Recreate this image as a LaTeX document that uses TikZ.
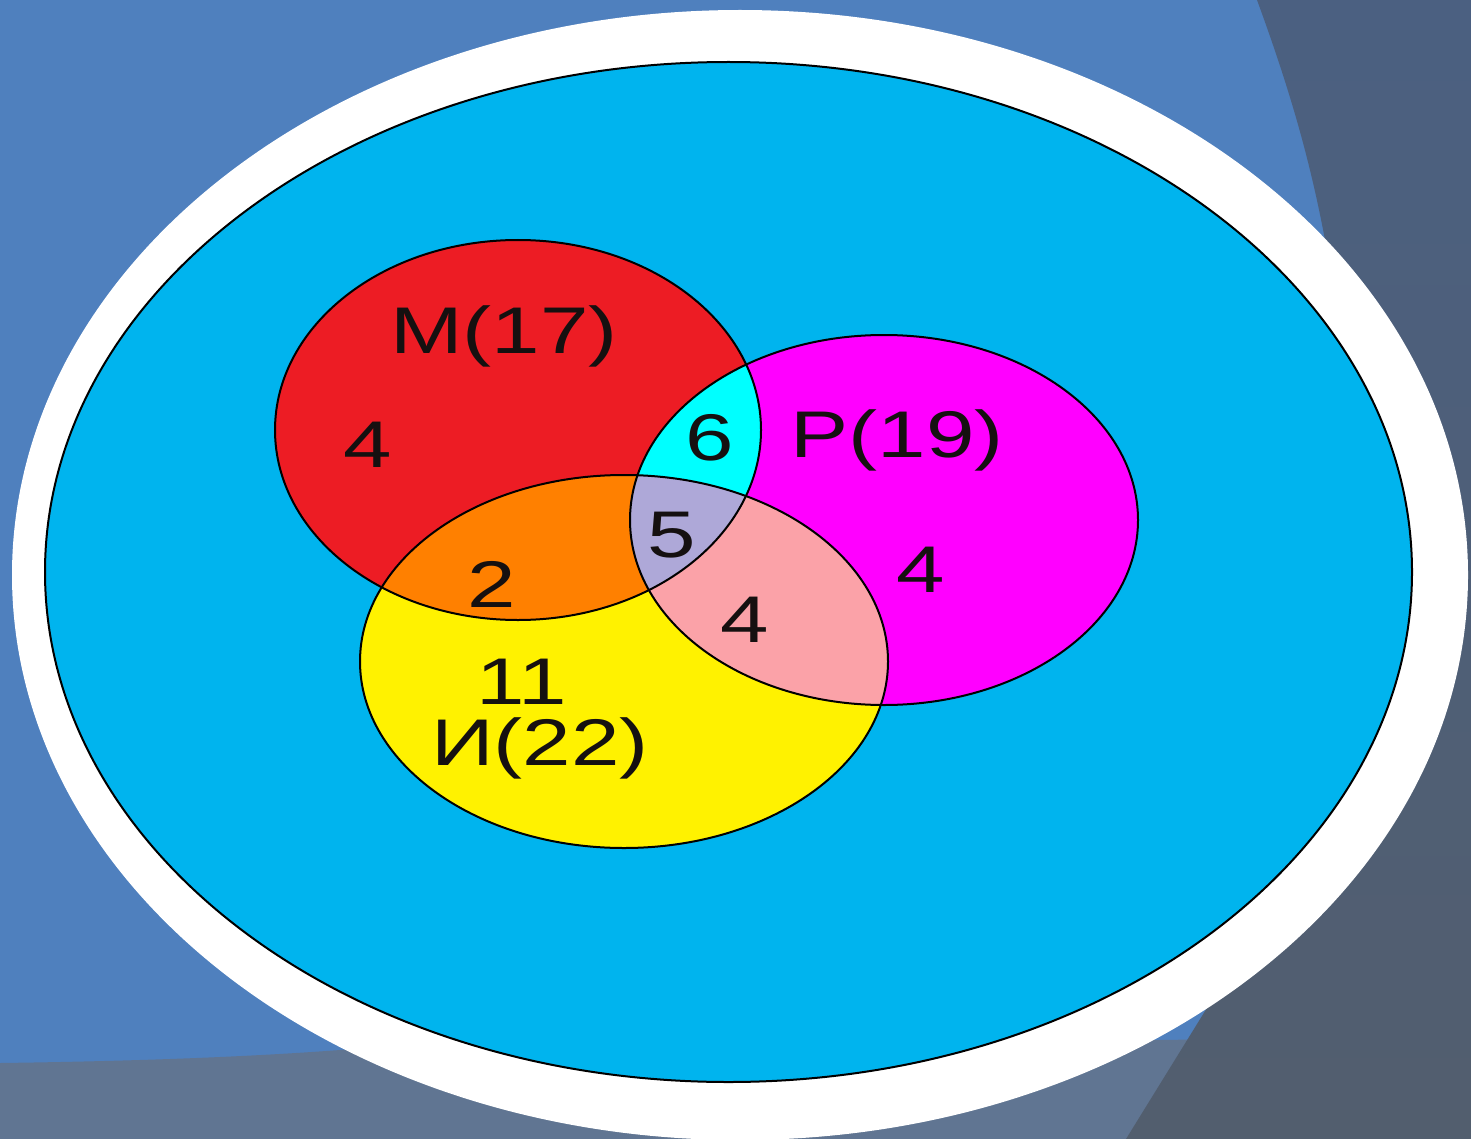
\documentclass[tikz,border=0pt]{standalone}
\usepackage{fontspec}
\setmainfont{Liberation Sans}
\definecolor{bgblue}{HTML}{4F80BE}
\definecolor{bandgray}{HTML}{607592}
\definecolor{slatetop}{HTML}{4B6081}
\definecolor{slatebot}{HTML}{525E6E}
\definecolor{universe}{HTML}{00B4EE}
\definecolor{setM}{HTML}{ED1C24}
\definecolor{setP}{HTML}{FF00FF}
\definecolor{setI}{HTML}{FFF200}
\definecolor{mp}{HTML}{00FFFF}
\definecolor{mi}{HTML}{FF8000}
\definecolor{pi}{HTML}{FBA2A8}
\definecolor{mpi}{HTML}{AEA8D8}
\definecolor{ink}{HTML}{151010}
\tikzset{
  lbl/.style={inner sep=0pt, anchor=base, text=ink,
    font=\fontsize{33}{36}\selectfont},
  outline/.style={draw=black, line width=1pt}
}
\newcommand{\wide}[1]{\scalebox{1.32}[1]{#1}}
\begin{document}
\begin{tikzpicture}[x=0.5pt,y=-0.5pt]
\useasboundingbox (0,0) rectangle (1471,1139);
% background
\fill[bgblue] (0,0) rectangle (1471,1139);
\fill[bandgray] (0,1063) .. controls (150,1061) and (260,1056) .. (340,1050) -- (1320,1038) -- (1320,1139) -- (0,1139) -- cycle;
\shade[top color=slatetop, bottom color=slatebot]
  (1257,0) .. controls (1290,90) and (1310,160) .. (1325,240) -- (1310,880) -- (1210,1003) -- (1126,1139) -- (1471,1139) -- (1471,0) -- cycle;
% white frame ellipse and universe
\fill[white] (740,575) ellipse [x radius=728, y radius=565];
\path[fill=universe, outline] (728.5,572) ellipse [x radius=683.5, y radius=510];
% sets
\fill[setM] (518,430) ellipse [x radius=243, y radius=190];
\fill[setP] (884,520) ellipse [x radius=254, y radius=185];
\fill[setI] (624,661.5) ellipse [x radius=264, y radius=186.5];
\begin{scope}
  \clip (884,520) ellipse [x radius=254, y radius=185];
  \fill[pi] (624,661.5) ellipse [x radius=264, y radius=186.5];
\end{scope}
\begin{scope}
  \clip (518,430) ellipse [x radius=243, y radius=190];
  \fill[mp] (884,520) ellipse [x radius=254, y radius=185];
  \fill[mi] (624,661.5) ellipse [x radius=264, y radius=186.5];
  \clip (884,520) ellipse [x radius=254, y radius=185];
  \fill[mpi] (624,661.5) ellipse [x radius=264, y radius=186.5];
\end{scope}
\draw[outline] (518,430) ellipse [x radius=243, y radius=190];
\draw[outline] (884,520) ellipse [x radius=254, y radius=185];
\draw[outline] (624,661.5) ellipse [x radius=264, y radius=186.5];
% labels
\node[lbl] (lM) at (504,353) {\wide{М(17)}};
\node[lbl] (lP) at (897,457) {\wide{Р(19)}};
\node[lbl] (lI) at (540,765) {\wide{И(22)}};
\node[lbl] (nM) at (368,467) {\wide{4}};
\node[lbl] (nMP) at (710,460) {\wide{6}};
\node[lbl] (nMPI) at (672,557) {\wide{5}};
\node[lbl] (nMI) at (492,607) {\wide{2}};
\node[lbl] (nPI) at (745,642) {\wide{4}};
\node[lbl] (nP) at (921,592) {\wide{4}};
\node[lbl] (nI) at (522,704) {\wide{11}};
\end{tikzpicture}
\end{document}
